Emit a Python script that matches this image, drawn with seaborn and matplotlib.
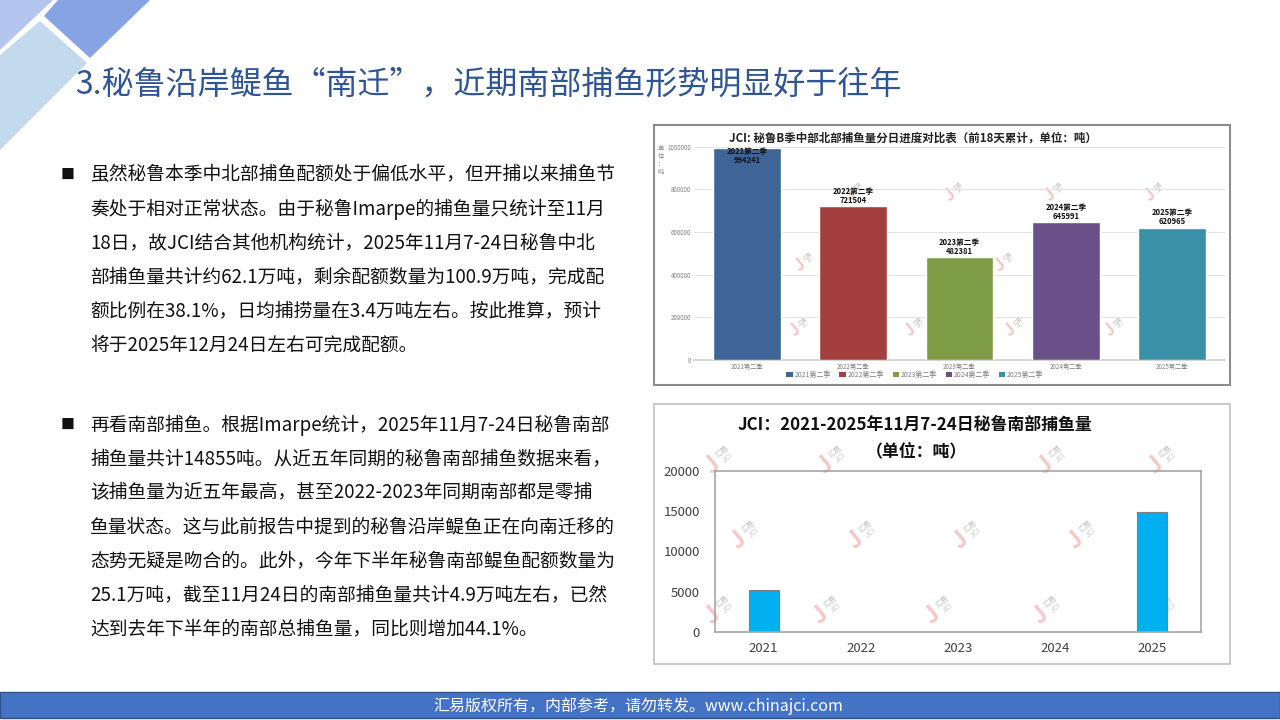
import numpy as np
import pandas as pd
import matplotlib
matplotlib.use("Agg")
import matplotlib.pyplot as plt
from matplotlib.patches import Rectangle, Polygon, Patch
from matplotlib.ticker import FuncFormatter
import seaborn as sns

# ---------------- data ----------------
seasons = ['2021第二季', '2022第二季', '2023第二季', '2024第二季', '2025第二季']
north_catch = [994241, 721504, 482381, 645991, 620965]
north_colors = ['#3E6498', '#A3403D', '#7E9C45', '#6A5088', '#3A90A6']

years = ['2021', '2022', '2023', '2024', '2025']
south_catch = [5200, 0, 0, 0, 14855]

title_text = '3.秘鲁沿岸鳀鱼“南迁”，近期南部捕鱼形势明显好于往年'
para1 = ['虽然秘鲁本季中北部捕鱼配额处于偏低水平，但开捕以来捕鱼节',
         '奏处于相对正常状态。由于秘鲁Imarpe的捕鱼量只统计至11月',
         '18日，故JCI结合其他机构统计，2025年11月7-24日秘鲁中北',
         '部捕鱼量共计约62.1万吨，剩余配额数量为100.9万吨，完成配',
         '额比例在38.1%，日均捕捞量在3.4万吨左右。按此推算，预计',
         '将于2025年12月24日左右可完成配额。']
para2 = ['再看南部捕鱼。根据Imarpe统计，2025年11月7-24日秘鲁南部',
         '捕鱼量共计14855吨。从近五年同期的秘鲁南部捕鱼数据来看，',
         '该捕鱼量为近五年最高，甚至2022-2023年同期南部都是零捕',
         '鱼量状态。这与此前报告中提到的秘鲁沿岸鳀鱼正在向南迁移的',
         '态势无疑是吻合的。此外，今年下半年秘鲁南部鳀鱼配额数量为',
         '25.1万吨，截至11月24日的南部捕鱼量共计4.9万吨左右，已然',
         '达到去年下半年的南部总捕鱼量，同比则增加44.1%。']
chart1_title = 'JCI: 秘鲁B季中部北部捕鱼量分日进度对比表（前18天累计，单位：吨）'
chart2_title = 'JCI：2021-2025年11月7-24日秘鲁南部捕鱼量'
chart2_unit = '（单位：吨）'
footer_text = '汇易版权所有，内部参考，请勿转发。www.chinajci.com'

# ---------------- style ----------------
sns.set_theme(style='white')
plt.rcParams['font.family'] = ['Noto Sans CJK SC', 'DejaVu Sans']
plt.rcParams['axes.unicode_minus'] = False

W, H = 1280, 720
fig = plt.figure(figsize=(12.8, 7.2), dpi=100)
fig.patch.set_facecolor('white')


def rect(x0, y0, x1, y1):
    return [x0 / W, 1 - y1 / H, (x1 - x0) / W, (y1 - y0) / H]


bg = fig.add_axes([0, 0, 1, 1], zorder=0)
bg.set_xlim(0, W)
bg.set_ylim(H, 0)
bg.axis('off')

# decorations top-left
bg.add_patch(Polygon([(0, 0), (53, 0), (0, 50)], closed=True, facecolor='#B3C4EE', edgecolor='none'))
bg.add_patch(Polygon([(58, 0), (150, 0), (90, 58), (44, 16)], closed=True, facecolor='#86A3E4', edgecolor='none'))
bg.add_patch(Polygon([(0, 55), (40, 21), (87, 63), (0, 150)], closed=True, facecolor='#C3D9EC', edgecolor='none'))

# title
bg.text(75, 85, title_text, fontsize=23, color='#2F5597', va='center', ha='left')

# body paragraphs
lh = 34
for i, line in enumerate(para1):
    bg.text(90, 175 + i * lh, line, fontsize=13.5, color='#111111', va='center', ha='left')
bg.text(61, 175, '■', fontsize=10, color='#111111', va='center', ha='left')
for i, line in enumerate(para2):
    bg.text(90, 425 + i * lh, line, fontsize=13.5, color='#111111', va='center', ha='left')
bg.text(61, 425, '■', fontsize=10, color='#111111', va='center', ha='left')

# chart frames
bg.add_patch(Rectangle((654, 125), 576, 260, facecolor='white', edgecolor='#8C8C8C', lw=1.5))
bg.add_patch(Rectangle((654, 404), 576, 260, facecolor='white', edgecolor='#C0C0C0', lw=1.2))

# chart titles
bg.text(913, 138, chart1_title, fontsize=8.3, fontweight='bold', color='#222222', ha='center', va='center')
bg.text(915, 425, chart2_title, fontsize=12.2, fontweight='bold', color='#111111', ha='center', va='center')
bg.text(916, 451, chart2_unit, fontsize=12.2, fontweight='bold', color='#111111', ha='center', va='center')
bg.text(661, 160, '单\n位\n：\n吨', fontsize=4.5, color='#808080', ha='center', va='center', linespacing=1.0)


# watermarks
def watermark(x, y, s=1.0):
    bg.text(x, y, 'J', fontsize=17 * s, fontweight='bold', color='#F3B9B9', alpha=0.8,
            rotation=40, ha='center', va='center', zorder=1)
    bg.text(x + 13 * s, y - 10 * s, '汇易\nJCI', fontsize=5.5 * s, color='#B5B5B5', alpha=0.8,
            rotation=40, ha='center', va='center', linespacing=0.9, zorder=1)


for (wx, wy) in [(712, 465), (825, 465), (1045, 465), (1155, 465),
                 (738, 540), (855, 540), (960, 540), (1075, 540),
                 (712, 615), (820, 615), (932, 615), (1040, 615), (1155, 615)]:
    watermark(wx, wy)
for (wx, wy) in [(795, 330), (910, 330), (1010, 330), (1110, 330),
                 (850, 195), (950, 195), (1050, 195), (1150, 195),
                 (800, 265), (1000, 265)]:
    watermark(wx, wy, 0.7)

# footer
bg.add_patch(Rectangle((0, 692), W, 26, facecolor='#4472C4', edgecolor='#2F528F', lw=1))
bg.text(638, 706, footer_text, fontsize=11.5, color='white', ha='center', va='center')

# ---------------- chart 1 ----------------
df1 = pd.DataFrame({'季度': seasons, '捕鱼量': north_catch})
ax1 = fig.add_axes(rect(694, 146.7, 1225, 360), zorder=2)
ax1.patch.set_alpha(0)
sns.barplot(data=df1, x='季度', y='捕鱼量', hue='季度', palette=north_colors,
            saturation=1, width=0.64, legend=False, ax=ax1, zorder=3)
ax1.set_ylim(0, 1000000)
ax1.set_xlim(-0.5, len(seasons) - 0.5)
ax1.set_yticks(np.arange(0, 1000001, 200000))
ax1.yaxis.set_major_formatter(FuncFormatter(lambda v, p: f'{int(v)}'))
ax1.yaxis.grid(True, color='#E3E3E3', lw=0.7)
ax1.set_axisbelow(True)
for s in ['top', 'right', 'left']:
    ax1.spines[s].set_visible(False)
ax1.spines['bottom'].set_color('#D0D0D0')
ax1.tick_params(axis='both', length=0, labelsize=4.5, labelcolor='#7F7F7F', pad=2)
ax1.set_xlabel('')
ax1.set_ylabel('')
ymax = 1000000
for i, (s, v) in enumerate(zip(seasons, north_catch)):
    lab = f'{s}\n{v}'
    if v > 0.95 * ymax:
        ax1.text(i, ymax, lab, ha='center', va='top', fontsize=5.5, fontweight='bold',
                 color='#111111', linespacing=1.0, zorder=5)
    else:
        ax1.annotate(lab, xy=(i, v), xytext=(0, 1), textcoords='offset points',
                     ha='center', va='bottom', fontsize=5.5, fontweight='bold',
                     color='#111111', linespacing=1.0, zorder=5)

handles = [Patch(facecolor=c, edgecolor='none') for c in north_colors]
fig.legend(handles, seasons, loc='center', bbox_to_anchor=(915 / W, 1 - 375 / H), ncol=5,
           fontsize=5, frameon=False, handlelength=0.9, handleheight=0.9,
           handletextpad=0.3, columnspacing=1.2, labelcolor='#7F7F7F')

# ---------------- chart 2 ----------------
df2 = pd.DataFrame({'年份': years, '捕鱼量': south_catch})
ax2 = fig.add_axes(rect(715, 470.7, 1201, 632.3), zorder=2)
ax2.patch.set_alpha(0)
sns.barplot(data=df2, x='年份', y='捕鱼量', color='#00B0F0', saturation=1, width=0.31,
            edgecolor='#7F7F7F', linewidth=0.8, ax=ax2)
ax2.set_ylim(0, 20000)
ax2.set_xlim(-0.5, len(years) - 0.5)
ax2.set_yticks(np.arange(0, 20001, 5000))
for s in ax2.spines.values():
    s.set_visible(True)
    s.set_color('#A6A6A6')
    s.set_linewidth(1.2)
ax2.tick_params(axis='both', length=0, labelsize=9.5, labelcolor='#404040')
ax2.tick_params(axis='y', pad=11)
ax2.tick_params(axis='x', pad=7)
ax2.set_xlabel('')
ax2.set_ylabel('')

fig.savefig('out.png', dpi=100)
